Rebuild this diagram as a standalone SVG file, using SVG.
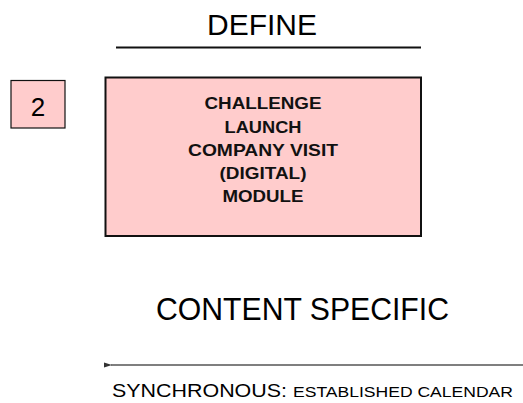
<svg xmlns="http://www.w3.org/2000/svg" width="523" height="403" viewBox="0 0 523 403">
  <style>
    .t { font-family: "Liberation Sans", Arial, sans-serif; fill: #000; }
    .b { font-weight: bold; font-size: 17px; text-anchor: middle; fill: #111; }
    .box { fill: #ffcccc; stroke: #111; }
  </style>
  <defs>
    <marker id="arrowhead" markerWidth="8" markerHeight="6" refX="1" refY="3" orient="auto" markerUnits="userSpaceOnUse">
      <path d="M8,0.5 L0,3 L8,5.5 Z" fill="#333"/>
    </marker>
  </defs>
  <rect width="523" height="403" fill="#fff"/>

  <g id="title">
    <text class="t" x="207" y="35" font-size="29" textLength="110" lengthAdjust="spacingAndGlyphs">DEFINE</text>
    <line x1="116" y1="47.5" x2="421" y2="47.5" stroke="#111" stroke-width="2"/>
  </g>

  <g id="step-number">
    <rect class="box" x="11" y="80.5" width="54" height="47.5" stroke-width="1.2"/>
    <text class="t" x="38" y="116" font-size="26" text-anchor="middle">2</text>
  </g>

  <g id="module">
    <rect class="box" x="105.5" y="77.5" width="315.5" height="158.5" stroke-width="2"/>
    <text class="t b" x="263" y="109.3" textLength="117" lengthAdjust="spacingAndGlyphs">CHALLENGE</text>
    <text class="t b" x="263" y="132.6" textLength="77" lengthAdjust="spacingAndGlyphs">LAUNCH</text>
    <text class="t b" x="263" y="155.8" textLength="150" lengthAdjust="spacingAndGlyphs">COMPANY VISIT</text>
    <text class="t b" x="263" y="179" textLength="87" lengthAdjust="spacingAndGlyphs">(DIGITAL)</text>
    <text class="t b" x="263" y="201.8" textLength="81" lengthAdjust="spacingAndGlyphs">MODULE</text>
  </g>

  <g id="content-label">
    <text class="t" x="156" y="320" font-size="32" textLength="293" lengthAdjust="spacingAndGlyphs">CONTENT SPECIFIC</text>
  </g>

  <g id="connectors">
    <line x1="523" y1="365" x2="111" y2="365" stroke="#555" stroke-width="1.3" marker-end="url(#arrowhead)"/>
  </g>

  <g id="timeline-label">
    <text class="t" x="112" y="397" font-size="18.5" textLength="175" lengthAdjust="spacingAndGlyphs">SYNCHRONOUS:</text>
    <text class="t" x="293" y="397" font-size="14" textLength="220" lengthAdjust="spacingAndGlyphs">ESTABLISHED CALENDAR</text>
  </g>
</svg>
